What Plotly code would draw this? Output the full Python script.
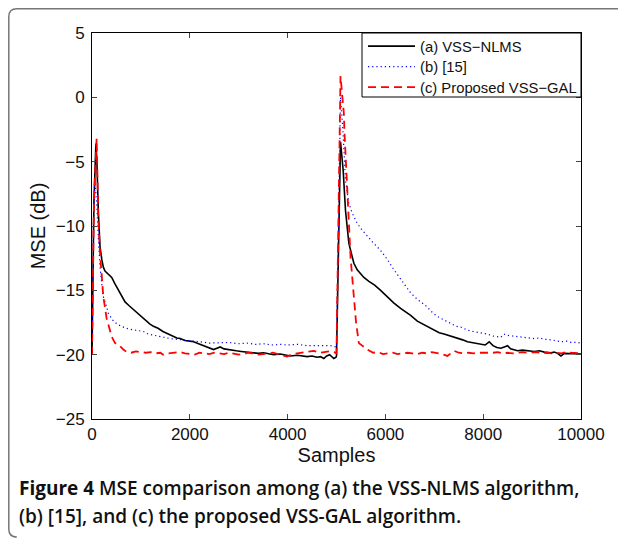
import plotly.graph_objects as go

# ---------------- data ----------------
x_a = [0, 40, 80, 100, 130, 164, 200, 232, 266, 320, 403, 470, 540, 610, 676, 760, 847, 930, 1017,
       1100, 1180, 1257, 1350, 1450, 1530, 1630, 1735, 1803, 1900, 2000, 2077, 2180, 2281, 2380,
       2486, 2554, 2623, 2700, 2828, 2950, 3050, 3169, 3300, 3400, 3510, 3600, 3715, 3850, 3950,
       4057, 4200, 4300, 4398, 4500, 4600, 4672, 4740, 4800, 4860, 4945, 4990, 5000, 5082, 5136,
       5184, 5253, 5355, 5424, 5492, 5560, 5663, 5780, 5902, 6040, 6175, 6311, 6420, 6516, 6653,
       6760, 6858, 6994, 7100, 7199, 7336, 7473, 7580, 7678, 7746, 7882, 7951, 8040, 8122, 8200,
       8280, 8361, 8430, 8498, 8560, 8634, 8702, 8800, 8900, 9044, 9150, 9250, 9385, 9454, 9520,
       9590, 9660, 9727, 9800, 9880, 9950, 10000]
mse_a = [-20.0, -8.0, -3.6, -5.0, -9.0, -11.6, -12.6, -13.2, -13.5, -13.7, -14.0, -14.5, -15.0,
         -15.4, -15.9, -16.2, -16.5, -16.8, -17.05, -17.35, -17.6, -17.8, -17.95, -18.2, -18.35,
         -18.55, -18.7, -18.75, -18.9, -18.95, -19.0, -19.15, -19.3, -19.4, -19.6, -19.5, -19.4,
         -19.55, -19.65, -19.7, -19.75, -19.8, -19.8, -19.9, -19.85, -19.9, -20.0, -19.95, -20.05,
         -20.1, -20.05, -20.1, -20.15, -20.1, -20.2, -20.15, -20.3, -20.1, -20.0, -20.3, -20.2,
         -20.1, -3.45, -5.65, -8.8, -11.35, -12.9, -13.4, -13.7, -14.0, -14.3, -14.6, -15.0,
         -15.5, -16.0, -16.4, -16.7, -16.95, -17.4, -17.6, -17.8, -18.1, -18.3, -18.4, -18.55,
         -18.7, -18.85, -19.0, -19.05, -19.1, -19.2, -19.25, -19.0, -19.3, -19.45, -19.5, -19.4,
         -19.3, -19.55, -19.6, -19.7, -19.65, -19.7, -19.75, -19.7, -19.8, -19.85, -19.8, -19.9,
         -20.1, -19.9, -19.9, -19.95, -19.9, -19.95, -19.95]

x_b = [0, 30, 60, 100, 130, 164, 200, 232, 300, 335, 420, 505, 600, 745, 900, 1052, 1150, 1257,
       1400, 1598, 1750, 1940, 2100, 2213, 2400, 2623, 2800, 3000, 3169, 3350, 3500, 3700, 3852,
       4000, 4200, 4400, 4600, 4750, 4877, 4990, 5000, 5082, 5130, 5184, 5250, 5321, 5424, 5520,
       5629, 5750, 5902, 6040, 6175, 6311, 6420, 6516, 6653, 6760, 6858, 6926, 7050, 7199, 7336,
       7450, 7541, 7678, 7800, 7882, 8000, 8088, 8200, 8361, 8420, 8500, 8600, 8750, 8907, 9044,
       9150, 9249, 9400, 9500, 9590, 9700, 9800, 9932, 10000]
mse_b = [-20.0, -10.0, -6.5, -8.5, -11.0, -13.2, -14.5, -15.5, -16.3, -16.8, -17.3, -17.6, -17.8,
         -18.0, -18.1, -18.2, -18.4, -18.5, -18.6, -18.75, -18.8, -18.9, -18.95, -19.0, -19.1,
         -19.1, -19.05, -19.15, -19.1, -19.2, -19.15, -19.25, -19.2, -19.25, -19.2, -19.3, -19.3,
         -19.35, -19.3, -19.4, -19.4, 0.0, -2.5, -6.4, -8.2, -9.0, -9.8, -10.3, -10.8, -11.3,
         -11.9, -12.6, -13.4, -14.1, -14.7, -15.2, -15.7, -16.0, -16.3, -16.6, -17.0, -17.3,
         -17.6, -17.8, -17.85, -18.1, -18.2, -18.25, -18.35, -18.4, -18.55, -18.65, -18.4, -18.5,
         -18.55, -18.6, -18.65, -18.75, -18.7, -18.8, -18.85, -18.95, -19.0, -18.95, -19.05,
         -19.05, -19.1]

x_c = [0, 40, 95, 115, 130, 164, 198, 232, 300, 369, 403, 471, 540, 642, 710, 800, 900, 1000,
       1100, 1200, 1300, 1400, 1455, 1550, 1650, 1803, 1900, 2000, 2100, 2200, 2300, 2400, 2500,
       2600, 2700, 2800, 2900, 3000, 3100, 3200, 3300, 3400, 3500, 3600, 3700, 3800, 3900, 3989,
       4100, 4262, 4400, 4535, 4650, 4750, 4850, 4950, 5000, 5082, 5120, 5150, 5164, 5219, 5287,
       5355, 5400, 5457, 5550, 5629, 5750, 5850, 5950, 6050, 6150, 6250, 6350, 6450, 6550, 6650,
       6750, 6850, 6950, 7050, 7150, 7268, 7350, 7405, 7500, 7600, 7700, 7800, 7900, 8000, 8100,
       8200, 8300, 8400, 8500, 8600, 8700, 8800, 8900, 9000, 9100, 9200, 9300, 9400, 9500, 9600,
       9700, 9800, 9900, 10000]
mse_c = [-20.0, -8.0, -3.2, -6.0, -9.5, -12.1, -13.5, -15.5, -17.2, -18.3, -18.6, -19.1, -19.2,
         -19.6, -19.8, -19.85, -19.75, -19.8, -19.85, -19.8, -19.9, -19.85, -20.0, -19.9, -19.85,
         -19.8, -19.9, -19.95, -20.0, -19.85, -19.9, -19.95, -19.85, -19.9, -19.95, -19.85, -19.9,
         -20.0, -19.95, -19.85, -19.9, -20.0, -19.95, -19.9, -19.85, -19.95, -20.05, -20.15,
         -19.95, -19.85, -19.8, -19.7, -19.85, -19.8, -19.75, -19.8, -19.9, 1.65, 0.0, -1.25,
         -2.8, -6.7, -12.4, -15.5, -17.5, -19.1, -19.4, -19.6, -19.85, -19.8, -19.95, -19.9,
         -19.85, -19.95, -19.9, -19.85, -19.9, -19.95, -19.85, -19.9, -19.8, -19.85, -19.95,
         -20.1, -19.9, -19.7, -19.85, -19.9, -19.85, -19.9, -19.85, -19.85, -19.9, -19.85, -19.8,
         -19.9, -19.85, -19.9, -19.85, -19.8, -19.85, -19.85, -19.8, -19.9, -19.85, -19.9,
         -19.85, -19.9, -19.8, -19.85, -19.9, -19.9]

names = ["(a) VSS\u2212NLMS", "(b) [15]", "(c) Proposed VSS\u2212GAL"]
x_ticks = [0, 2000, 4000, 6000, 8000, 10000]
y_ticks = [5, 0, -5, -10, -15, -20, -25]
caption_bold = "Figure 4"
caption_1 = "MSE comparison among (a) the VSS-NLMS algorithm,"
caption_2 = "(b) [15], and (c) the proposed VSS-GAL algorithm."

# ---------------- figure ----------------
OFF = 8                      # the page body margin the figure sits in
W, H = 626 - OFF, 545 - OFF
L, T = 92 - OFF, 33 - OFF
R, B = W - (581 - OFF), H - (419 - OFF)
pw, ph = W - L - R, H - T - B


def px(x):                   # page pixel -> paper coordinate
    return (x - OFF - L) / pw


def py(y):
    return (H - B - (y - OFF)) / ph


fig = go.Figure()
fig.add_trace(go.Scatter(x=x_a, y=mse_a, mode="lines", name=names[0], legend="legend",
                         line=dict(color="#000000", width=1.6)))
fig.add_trace(go.Scatter(x=x_b, y=mse_b, mode="lines", name=names[1], legend="legend2",
                         line=dict(color="#0000ff", width=1.2, dash="1.2px,3px")))
fig.add_trace(go.Scatter(x=x_c, y=mse_c, mode="lines", name=names[2], legend="legend3",
                         line=dict(color="#ff0000", width=1.8, dash="8px,5px")))

sans = "Liberation Sans, Arial, sans-serif"
axis_font = dict(family=sans, size=17, color="#111")
fig.update_xaxes(range=[0, 10000], tickvals=x_ticks, tickformat="d", ticks="inside", ticklen=5,
                 showline=True, linecolor="black", linewidth=1, mirror="allticks",
                 showgrid=False, zeroline=False, tickfont=axis_font,
                 title=dict(text="Samples", font=dict(family=sans, size=20, color="#111"),
                            standoff=1))
fig.update_yaxes(range=[-25, 5], tickvals=y_ticks, ticks="inside", ticklen=5,
                 showline=True, linecolor="black", linewidth=1, mirror="allticks",
                 showgrid=False, zeroline=False, tickfont=axis_font, ticklabelstandoff=3,
                 title=dict(text="MSE (dB)", font=dict(family=sans, size=20, color="#111"),
                            standoff=4))

# legend box
fig.add_shape(type="rect", xref="paper", yref="paper", x0=px(362), x1=px(581),
              y0=py(97), y1=py(33), layer="above", fillcolor="white",
              line=dict(color="black", width=1))

# rounded page frame (top/left parts that fall inside the figure)
xl, xr = 0.8 / pw - L / pw, (W + 20 - L) / pw
yt, yb = py(OFF + 0.8), py(537)
rx, ry = 8 / pw, 8 / ph
frame = (f"M {xr},{yt} L {xl + rx},{yt} Q {xl},{yt} {xl},{yt - ry} "
         f"L {xl},{yb + ry} Q {xl},{yb} {xl + rx},{yb} L {px(14)},{yb}")
fig.add_shape(type="path", xref="paper", yref="paper", path=frame,
              line=dict(color="#777777", width=1.5))

cap_font = dict(family="Open Sans, Noto Sans, sans-serif", size=19, color="#111", weight=600)
fig.add_annotation(xref="paper", yref="paper", x=px(17), y=py(488), xanchor="left",
                   yanchor="middle", showarrow=False, font=cap_font,
                   text=f"<b>{caption_bold}</b> {caption_1}")
fig.add_annotation(xref="paper", yref="paper", x=px(17), y=py(516), xanchor="left",
                   yanchor="middle", showarrow=False, font=cap_font, text=caption_2)


def legend_at(row_center):
    return dict(x=px(363), xanchor="left", y=py(row_center - 15), yanchor="top",
                bgcolor="rgba(0,0,0,0)", borderwidth=0, itemwidth=47,
                font=dict(family=sans, size=14.8, color="#111"))


fig.update_layout(
    width=W, height=H,
    margin=dict(l=L, r=R, t=T, b=B, autoexpand=False),
    paper_bgcolor="white", plot_bgcolor="white",
    showlegend=True,
    legend=legend_at(45), legend2=legend_at(65.5), legend3=legend_at(86),
)

fig.write_html("out.html")
